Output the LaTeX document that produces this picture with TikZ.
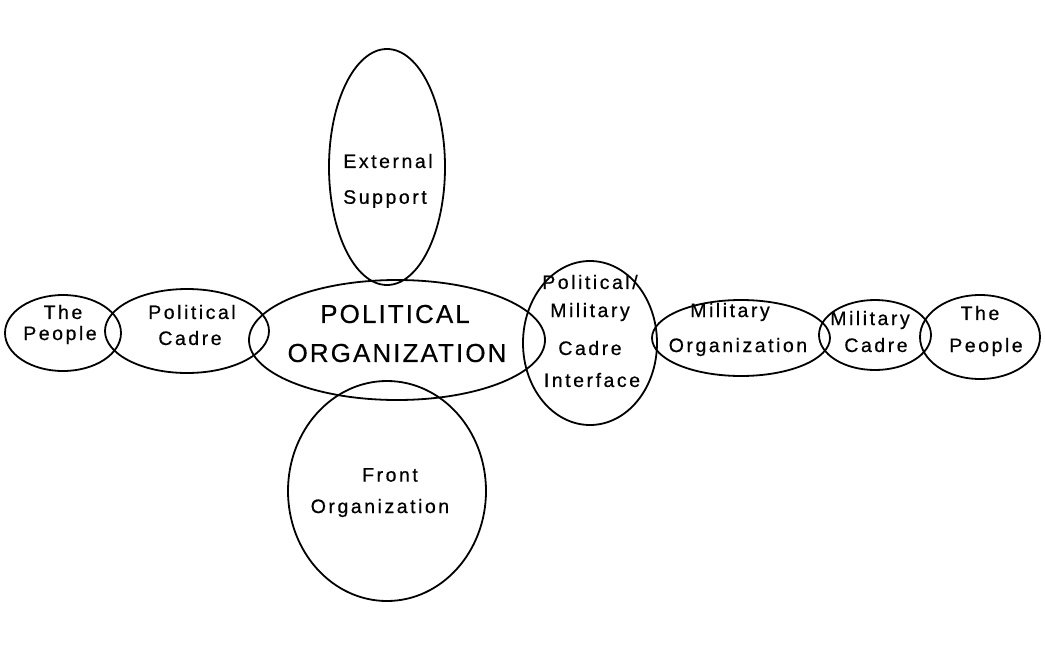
\documentclass[tikz,border=0pt]{standalone}
\usepackage{fontspec}
\newfontfamily\smallf{Liberation Sans}[LetterSpace=13,FakeBold=0.6]
\newfontfamily\bigf{Liberation Sans}[LetterSpace=8,FakeBold=0.4]
\usetikzlibrary{shapes.geometric}
\begin{document}
\begin{tikzpicture}[x=1pt,y=-1pt,
  blob/.style={draw=black,line width=1.8pt,ellipse,inner sep=0pt},
  lbl/.style={font=\smallf\fontsize{19.5}{22}\selectfont,inner sep=0pt,anchor=center},
  big/.style={font=\bigf\fontsize{26}{30}\selectfont,inner sep=0pt,anchor=center}]
\useasboundingbox (0,0) rectangle (1045,645);
\node[blob,minimum width=116pt,minimum height=76pt] (peopleL) at (63,333) {};
\node[blob,minimum width=164pt,minimum height=84pt] (cadreL) at (187,331) {};
\node[blob,minimum width=296pt,minimum height=120pt] (polorg) at (397,340) {};
\node[blob,minimum width=116pt,minimum height=236pt] (ext) at (387,167) {};
\node[blob,minimum width=198pt,minimum height=220pt] (front) at (387,491) {};
\node[blob,minimum width=134pt,minimum height=164pt] (pmci) at (590,343) {};
\node[blob,minimum width=178pt,minimum height=76pt] (milorg) at (741,338) {};
\node[blob,minimum width=112pt,minimum height=70pt] (milcadre) at (875,335) {};
\node[blob,minimum width=120pt,minimum height=84pt] (peopleR) at (980,337) {};
\node[lbl] (t1) at (63,312) {The};
\node[lbl] (t2) at (60,335) {People};
\node[lbl] (t3) at (192,312) {Political};
\node[lbl] (t4) at (190,338) {Cadre};
\node[big] (t5) at (395,314) {POLITICAL};
\node[big] (t6) at (397,353) {ORGANIZATION};
\node[lbl] (t7) at (388,161) {External};
\node[lbl] (t8) at (385,199) {Support};
\node[lbl] (t9) at (390,475) {Front};
\node[lbl] (t10) at (380,508) {Organization};
\node[lbl] (t11) at (590,282) {Political/};
\node[lbl] (t12) at (590,312) {Military};
\node[lbl] (t13) at (590,348) {Cadre};
\node[lbl] (t14) at (592,380) {Interface};
\node[lbl] (t15) at (730,312) {Military};
\node[lbl] (t16) at (738,347) {Organization};
\node[lbl] (t17) at (870,320) {Military};
\node[lbl] (t18) at (876,345) {Cadre};
\node[lbl] (t19) at (980,313) {The};
\node[lbl] (t20) at (986,347) {People};
\end{tikzpicture}
\end{document}
